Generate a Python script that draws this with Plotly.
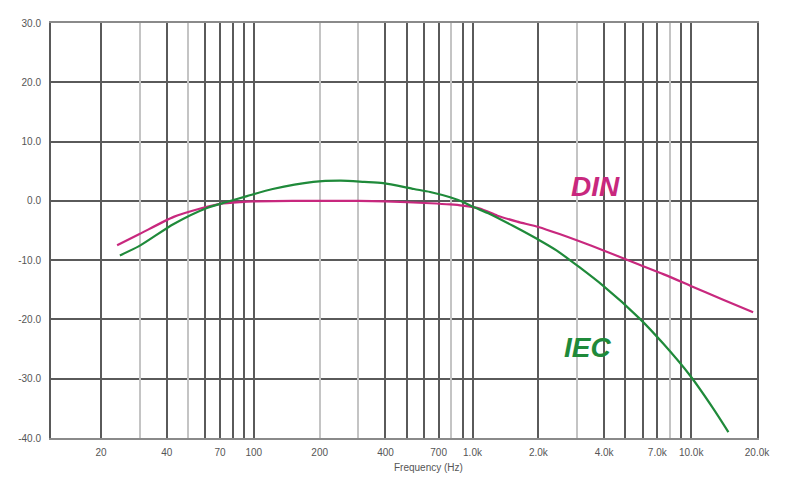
import numpy as np
import plotly.graph_objects as go

# DIN curve (frequency Hz, level dB)
din_freq = [23.7, 30, 43, 57, 70, 87, 100, 150, 200, 300, 400, 640, 790, 900, 1080,
            1300, 1600, 2000, 2500, 4000, 5650, 7500, 9900, 14000, 19200]
din_db = [-7.5, -5.6, -2.7, -1.3, -0.5, -0.2, -0.1, 0.0, 0.0, 0.0, -0.1, -0.4, -0.6, -0.8, -1.3,
          -2.5, -3.5, -4.4, -5.6, -8.4, -10.6, -12.4, -14.3, -16.7, -18.8]

# IEC curve
iec_freq = [24.4, 30, 43, 61, 75, 93, 122, 187, 250, 320, 390, 540, 640, 790, 905, 1005,
            1200, 1530, 1970, 2430, 3950, 5830, 7500, 9900, 12600, 14800]
iec_db = [-9.2, -7.6, -3.9, -1.2, -0.2, 0.8, 2.0, 3.2, 3.4, 3.2, 3.0, 2.0, 1.5, 0.6, -0.2, -1.0,
          -2.2, -4.2, -6.4, -8.4, -14.3, -19.9, -24.2, -29.5, -35.0, -39.0]

# Axis ticks
x_label_vals = [20, 40, 70, 100, 200, 400, 700, 1000, 2000, 4000, 7000, 10000, 20000]
x_label_text = ["20", "40", "70", "100", "200", "400", "700", "1.0k", "2.0k", "4.0k",
                "7.0k", "10.0k", "20.0k"]
x_dark_grid = [20, 40, 60, 70, 80, 90, 100, 400, 500, 600, 700, 900, 1000, 2000, 4000,
               5000, 6000, 7000, 9000, 10000, 20000]
x_light_grid = [30, 50, 200, 300, 800, 3000, 8000]
y_ticks = [-40, -30, -20, -10, 0, 10, 20, 30]
y_text = ["-40.0", "-30.0", "-20.0", "-10.0", "0.0", "10.0", "20.0", "30.0"]

xr = [np.log10(20) - 50 / 218.67, np.log10(20000)]

DIN_COL = "#c8287e"
IEC_COL = "#1f8a3a"
DARK = "#5a5a5a"
LIGHT = "#c4c4c4"
FONT = "Liberation Sans"

fig = go.Figure()

# invisible trace so overlay axis (light grid) renders
fig.add_trace(go.Scatter(x=din_freq, y=din_db, xaxis="x2", yaxis="y", mode="lines",
                         line=dict(width=0), opacity=0, hoverinfo="skip", showlegend=False))

fig.add_trace(go.Scatter(x=din_freq, y=din_db, mode="lines", name="DIN",
                         line=dict(color=DIN_COL, width=2.2, shape="spline", smoothing=0.7)))
fig.add_trace(go.Scatter(x=iec_freq, y=iec_db, mode="lines", name="IEC",
                         line=dict(color=IEC_COL, width=2.2, shape="spline", smoothing=0.7)))

fig.update_layout(
    width=799, height=481,
    margin=dict(l=51, r=42, t=23, b=43),
    paper_bgcolor="white", plot_bgcolor="rgba(0,0,0,0)",
    showlegend=False,
    font=dict(family=FONT, size=10, color="#555"),
    xaxis=dict(
        type="log", range=xr,
        tickmode="array", tickvals=x_label_vals, ticktext=x_label_text,
        showgrid=False, ticks="", zeroline=False,
        tickfont=dict(size=10, color="#555"),
        ticklabelstandoff=4,
        minor=dict(tickmode="array", tickvals=x_dark_grid, showgrid=True,
                   gridcolor=DARK, gridwidth=2, ticks=""),
        showline=True, linecolor="#8a8a8a", linewidth=1.5, mirror=True,
        layer="below traces",
    ),
    xaxis2=dict(
        type="log", range=xr, overlaying="x",
        tickmode="array", tickvals=x_light_grid, showticklabels=False,
        showgrid=True, gridcolor=LIGHT, gridwidth=2, ticks="", zeroline=False,
        layer="below traces",
    ),
    yaxis=dict(
        range=[-40, 30], tickmode="array", tickvals=y_ticks, ticktext=y_text,
        showgrid=True, gridcolor=DARK, gridwidth=2, zeroline=False, ticks="",
        tickfont=dict(size=10, color="#555"),
        ticklabelstandoff=6,
        showline=True, linecolor=DARK, linewidth=2, mirror=True,
    ),
    annotations=[
        dict(text="<b><i>DIN</i></b>", xref="paper", yref="paper",
             x=(595 - 51) / 706, y=(438 - 186) / 415, showarrow=False,
             xanchor="center", yanchor="middle",
             font=dict(family=FONT, size=28, color=DIN_COL)),
        dict(text="<b><i>IEC</i></b>", xref="paper", yref="paper",
             x=(587 - 51) / 706, y=(438 - 347) / 415, showarrow=False,
             xanchor="center", yanchor="middle",
             font=dict(family=FONT, size=28, color=IEC_COL)),
        dict(text="Frequency (Hz)", xref="paper", yref="paper",
             x=(428 - 51) / 706, y=(438 - 467) / 415, showarrow=False,
             xanchor="center", yanchor="middle",
             font=dict(family=FONT, size=10, color="#555")),
    ],
)

fig.write_html("out.html")
